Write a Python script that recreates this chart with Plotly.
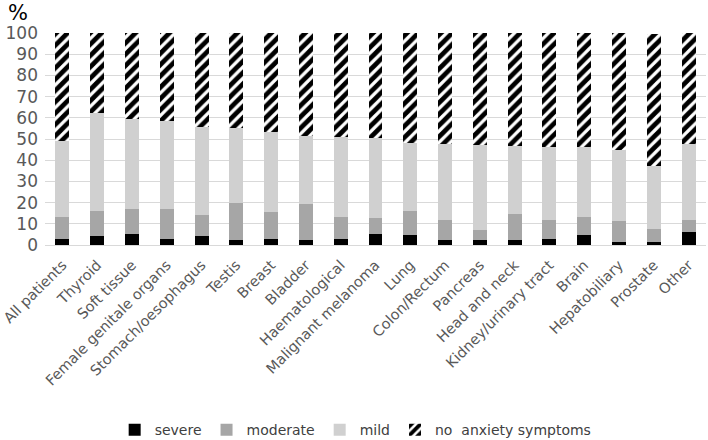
import plotly.graph_objects as go

categories = ["All patients", "Thyroid", "Soft tissue", "Female genitale organs",
              "Stomach/oesophagus", "Testis", "Breast", "Bladder", "Haematological",
              "Malignant melanoma", "Lung", "Colon/Rectum", "Pancreas", "Head and neck",
              "Kidney/urinary tract", "Brain", "Hepatobiliary", "Prostate", "Other"]

severe = [3.0, 4.1, 5.3, 3.0, 4.4, 2.5, 3.0, 2.2, 3.0, 5.3, 4.9, 2.2, 2.2, 2.2, 3.0, 4.9, 1.6, 1.6, 6.3]
moderate = [10.2, 12.1, 11.5, 14.1, 9.9, 17.5, 12.6, 17.3, 10.2, 7.6, 11.3, 9.7, 5.0, 12.6, 8.9, 8.3, 9.9, 6.1, 5.6]
mild = [36.0, 46.2, 42.8, 41.4, 41.5, 35.3, 37.7, 32.1, 37.7, 37.6, 32.1, 35.9, 40.0, 31.9, 34.3, 33.0, 33.3, 29.7, 35.9]
no_anxiety = [50.8, 37.6, 40.4, 41.5, 44.2, 44.7, 46.7, 48.4, 49.1, 49.5, 51.7, 52.2, 52.8, 53.3, 53.8, 53.8, 55.2, 62.0, 52.2]

y_ticks = [0, 10, 20, 30, 40, 50, 60, 70, 80, 90, 100]

FONT = "DejaVu Sans"
TXT = "#595959"

fig = go.Figure()
fig.add_trace(go.Bar(x=categories, y=severe, name="severe", marker=dict(color="#000000", line=dict(width=0))))
fig.add_trace(go.Bar(x=categories, y=moderate, name="moderate", marker=dict(color="#a6a6a6", line=dict(width=0))))
fig.add_trace(go.Bar(x=categories, y=mild, name="mild", marker=dict(color="#d0d0d0", line=dict(width=0))))
fig.add_trace(go.Bar(x=categories, y=no_anxiety, name="no  anxiety symptoms",
                     marker=dict(color="#ffffff", line=dict(width=0),
                                 pattern=dict(shape="/", fgcolor="#000000", bgcolor="#ffffff",
                                              fgopacity=1, size=8, solidity=0.6))))

fig.update_layout(
    barmode="stack",
    bargap=0.6,
    width=708, height=440,
    margin=dict(l=45, r=2, t=33, b=195, autoexpand=False),
    paper_bgcolor="white", plot_bgcolor="white",
    font=dict(family=FONT, color=TXT, size=14),
    showlegend=True,
    legend=dict(orientation="h", x=0.47, xanchor="center", y=-0.873, yanchor="middle",
                font=dict(family=FONT, size=14, color="#404040"), traceorder="normal",
                itemwidth=30),
    xaxis=dict(tickangle=-45, tickfont=dict(family=FONT, size=14.5, color=TXT),
               showline=True, linecolor="#d9d9d9", linewidth=1, ticks="",
               range=[-0.5, 18.5], automargin=False, ticklabelstandoff=5),
    yaxis=dict(range=[0, 100], tickvals=y_ticks, showgrid=True, gridcolor="#d9d9d9",
               gridwidth=1, zeroline=False, showline=False, ticks="",
               tickfont=dict(family=FONT, size=17, color=TXT), automargin=False,
               ticklabelstandoff=6),
    annotations=[dict(text="%", xref="paper", yref="paper", x=-0.041, y=1.094,
                      xanchor="center", yanchor="middle", showarrow=False,
                      font=dict(family=FONT, size=21, color="#000000"))],
)

fig.write_html("out.html", config={"displayModeBar": False},
               post_script="document.body.style.margin='0';document.body.style.overflow='hidden';")
